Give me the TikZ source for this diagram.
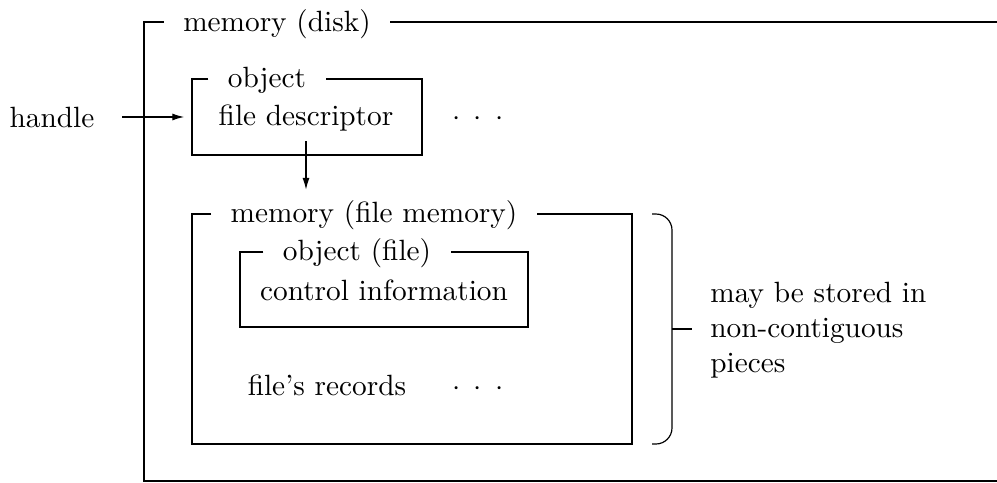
\documentclass[tikz,border=0pt]{standalone}
\usepackage{tikz}
\usetikzlibrary{calc}
\usetikzlibrary{arrows.meta}
\usetikzlibrary{positioning}

\begin{document}
\begin{tikzpicture}[
    x=0.012cm, y=-0.012cm,
    frame/.style={line width=0.8pt},
    title/.style={anchor=base, inner xsep=6.5pt},
    txt/.style={anchor=base},
    link/.style={-{Latex[length=4pt, width=2.4pt]}, line width=0.4pt},
    brace/.style={line width=0.4pt, rounded corners=5.5pt}
]

    % Dimensione del disegno (in pixel del riferimento)
    \useasboundingbox (0,0) rectangle (997,483);

    % Angoli delle cornici
    \coordinate (disk-nw) at (144,22);
    \coordinate (disk-se) at (997,481);
    \coordinate (obj-nw) at (192,79);
    \coordinate (obj-se) at (422,155);
    \coordinate (fm-nw) at (192,214);
    \coordinate (fm-se) at (632,444);
    \coordinate (file-nw) at (240,252);
    \coordinate (file-se) at (528,327);

    % 1. Titoli e testi
    \node[title] (disktitle) at (277,31) {memory (disk)};
    \node[title] (objtitle) at (267,87) {object};
    \node[title] (fmtitle) at (374,222) {memory (file memory)};
    \node[title] (filetitle) at (357,260) {object (file)};

    \node[txt] (handle) at (52,127) {handle};
    \node[txt] (descr) at (306,125) {file descriptor};
    \node[txt] (objdots) at (478,125) {$\cdot$\hspace{4.5pt}$\cdot$\hspace{4.5pt}$\cdot$};
    \node[txt] (control) at (384,300) {control information};
    \node[txt] (records) at (327,395) {file's records};
    \node[txt] (recdots) at (478,395) {$\cdot$\hspace{4.5pt}$\cdot$\hspace{4.5pt}$\cdot$};

    % 2. Cornici con il titolo sul lato superiore
    \draw[frame] (disktitle.west |- disk-nw) -- (disk-nw) -- (disk-nw |- disk-se) -- (disk-se);
    \draw[frame] (disktitle.east |- disk-nw) -- (disk-se |- disk-nw);

    \draw[frame] (objtitle.west |- obj-nw) -- (obj-nw) -- (obj-nw |- obj-se)
        -- (obj-se) -- (obj-se |- obj-nw) -- (objtitle.east |- obj-nw);

    \draw[frame] (fmtitle.west |- fm-nw) -- (fm-nw) -- (fm-nw |- fm-se)
        -- (fm-se) -- (fm-se |- fm-nw) -- (fmtitle.east |- fm-nw);

    \draw[frame] (filetitle.west |- file-nw) -- (file-nw) -- (file-nw |- file-se)
        -- (file-se) -- (file-se |- file-nw) -- (filetitle.east |- file-nw);

    % 3. Frecce
    \draw[link, shorten <=6pt, shorten >=2.7pt] (handle.east) -- (handle.east -| obj-nw);
    \draw[link] (descr.south) -- (descr.south |- fmtitle.north);

    % 4. Parentesi e nota
    \coordinate (brace-top) at (652,214);
    \coordinate (brace-bot) at (652,444);
    \coordinate (brace-mid) at (672,329);
    \node[anchor=west, align=left] (stored) at (700,330) {may be stored in\\non-contiguous\\pieces};
    \draw[brace] (brace-top) -- (brace-top -| brace-mid) -- (brace-bot -| brace-mid) -- (brace-bot);
    \draw[line width=0.4pt, shorten >=2.7pt] (brace-mid) -- (brace-mid -| stored.west);

\end{tikzpicture}
\end{document}
